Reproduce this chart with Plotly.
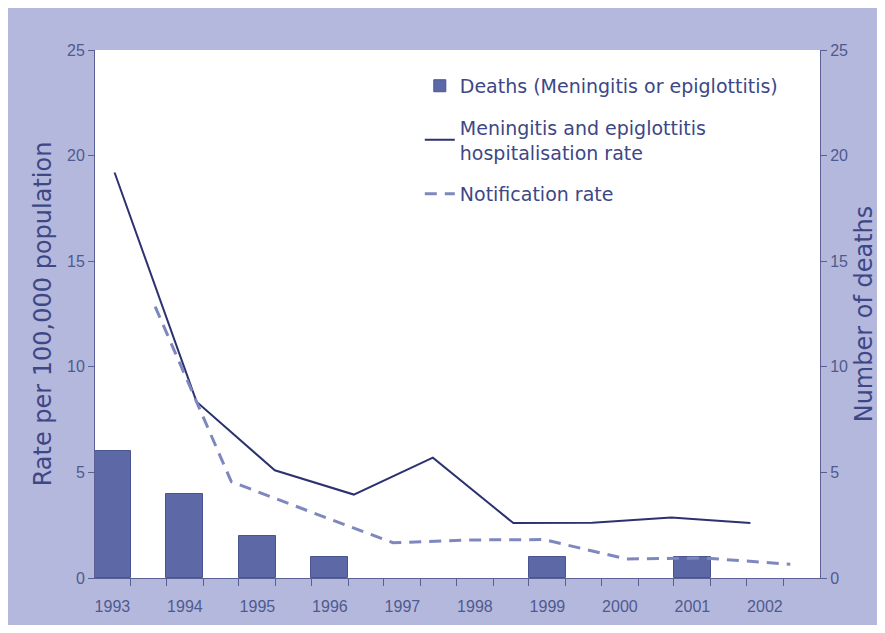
import plotly.graph_objects as go

years = [1993, 1994, 1995, 1996, 1997, 1998, 1999, 2000, 2001, 2002]
year_labels = [str(y) for y in years]
deaths = [6, 4, 2, 1, None, None, 1, None, 1, None]

hosp_x = [1993.03, 1994.16, 1995.24, 1996.33, 1997.42, 1998.53, 1999.62, 2000.05, 2000.71, 2001.2, 2001.8]
hosp_rate = [19.2, 8.35, 5.1, 3.95, 5.7, 2.6, 2.62, 2.72, 2.86, 2.75, 2.6]

notif_x = [1993.59, 1994.64, 1995.72, 1996.87, 1997.9, 1998.95, 2000.09, 2001.15, 2002.35]
notif_rate = [12.85, 4.56, 3.15, 1.67, 1.8, 1.82, 0.9, 0.95, 0.65]

bar_width = 0.51
edge_ticks = []
for y in years:
    edge_ticks += [y - bar_width / 2, y + bar_width / 2]

TXT = "#3d4785"
TICKTXT = "#4f5a8e"
AX = "#5a6094"
FONT = "Liberation Sans, Arial, sans-serif"
WIDE = "DejaVu Sans, sans-serif"

fig = go.Figure()
fig.add_trace(go.Bar(
    x=years, y=deaths, width=bar_width, name="Deaths (Meningitis or epiglottitis)",
    marker=dict(color="#5d69a7", line=dict(color="#4a548f", width=1)),
    yaxis="y", legendgroup="a",
))
fig.add_trace(go.Scatter(
    x=hosp_x, y=hosp_rate, mode="lines",
    name="Meningitis and epiglottitis<br>hospitalisation rate",
    line=dict(color="#2c3270", width=2), yaxis="y2", legendgroup="b",
))
fig.add_trace(go.Scatter(
    x=notif_x, y=notif_rate, mode="lines", name="Notification rate",
    line=dict(color="#7f87bf", width=3, dash="12px,8px"), yaxis="y2", legendgroup="c",
))

fig.update_layout(
    width=877, height=625,
    margin=dict(l=87, r=65, t=42, b=55, autoexpand=False),
    paper_bgcolor="white",
    plot_bgcolor="white",
    font=dict(family=FONT, color=TXT),
    showlegend=True,
    bargap=0,
    legend=dict(
        x=0.448, y=0.968, xanchor="left", yanchor="top",
        bgcolor="rgba(0,0,0,0)", font=dict(size=19, color=TXT, family=WIDE),
        tracegroupgap=14,
    ),
    xaxis=dict(
        range=[1992.76, 2002.76], automargin=False,
        tickvals=years, ticktext=year_labels, ticks="outside", ticklen=14,
        tickcolor="rgba(0,0,0,0)",
        tickfont=dict(size=16, color=TICKTXT),
        showline=True, linecolor=AX, linewidth=1,
        showgrid=False, zeroline=False,
        minor=dict(tickvals=edge_ticks, ticks="outside", ticklen=7, tickcolor=AX, showgrid=False),
    ),
    yaxis=dict(
        side="right", range=[0, 25], tickvals=[0, 5, 10, 15, 20, 25], automargin=False,
        ticks="outside", ticklen=6, tickcolor=AX,
        showline=True, linecolor=AX, linewidth=1,
        showgrid=False, zeroline=False,
        tickfont=dict(size=16, color=TICKTXT),
        title=dict(text="Number of deaths", font=dict(size=24, color=TXT, family=WIDE), standoff=8),
    ),
    yaxis2=dict(
        side="left", overlaying="y", range=[0, 25], tickvals=[0, 5, 10, 15, 20, 25], automargin=False,
        ticks="outside", ticklen=6, tickcolor=AX,
        showline=True, linecolor=AX, linewidth=1,
        showgrid=False, zeroline=False,
        tickfont=dict(size=16, color=TICKTXT),
        title=dict(text="Rate per 100,000 population", font=dict(size=24, color=TXT, family=WIDE), standoff=8),
    ),
    shapes=[
        dict(type="rect", xref="paper", yref="paper", x0=-0.12, x1=1.0786, y0=-0.089, y1=1.0795,
             fillcolor="#b5b8dd", line=dict(width=0), layer="below"),
        dict(type="rect", xref="paper", yref="paper", x0=0, x1=1, y0=0, y1=1,
             fillcolor="white", line=dict(width=0), layer="below"),
    ],
)

fig.write_html("out.html")
